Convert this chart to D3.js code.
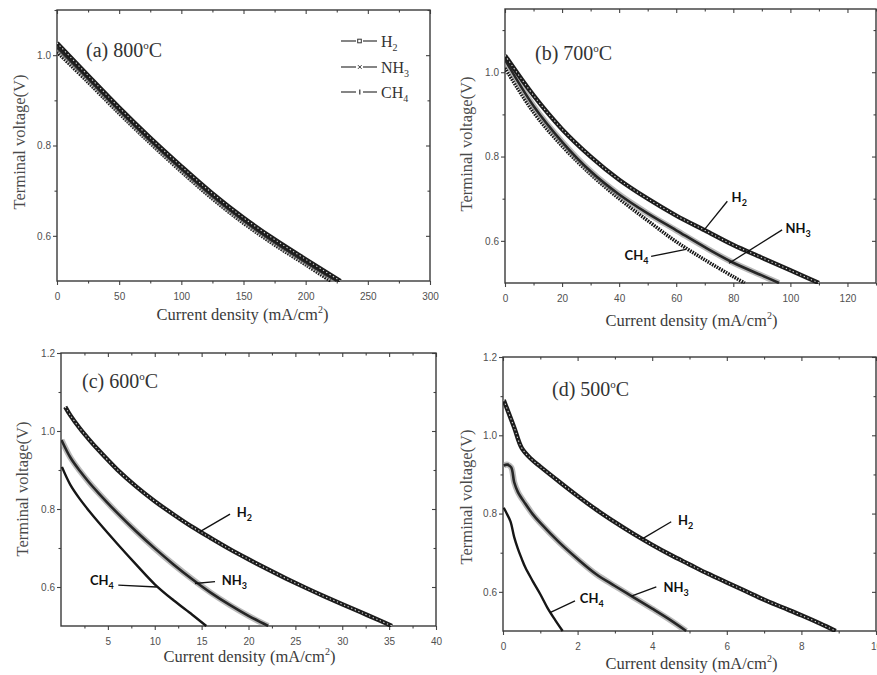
<!DOCTYPE html>
<html>
<head>
<meta charset="utf-8">
<script src="https://cdn.jsdelivr.net/npm/d3@7"></script>
<style>
    body { margin: 0; background: #fff; }
</style>
</head>
<body>
<div id="chart"></div>
<script>
// [current density (mA/cm2), terminal voltage (V)]
const h2At800 = [[0, 1.027], [25, 0.955], [50, 0.884], [75, 0.817], [100, 0.754], [125, 0.694], [150, 0.64], [175, 0.592], [200, 0.548], [228, 0.5]];
const nh3At800 = [[0, 1.017], [25, 0.948], [50, 0.878], [75, 0.811], [100, 0.748], [125, 0.688], [150, 0.634], [175, 0.586], [200, 0.542], [225, 0.5]];
const ch4At800 = [[0, 1.007], [25, 0.94], [50, 0.871], [75, 0.805], [100, 0.742], [125, 0.682], [150, 0.628], [175, 0.58], [200, 0.536], [220, 0.5]];

const h2At700 = [[0, 1.04], [10, 0.945], [20, 0.865], [30, 0.8], [40, 0.745], [50, 0.7], [60, 0.66], [70, 0.625], [80, 0.59], [90, 0.56], [100, 0.53], [110, 0.5]];
const nh3At700 = [[0, 1.03], [10, 0.92], [20, 0.835], [30, 0.765], [40, 0.71], [50, 0.665], [60, 0.625], [70, 0.585], [80, 0.548], [90, 0.518], [96, 0.5]];
const ch4At700 = [[0, 1.01], [10, 0.905], [20, 0.825], [30, 0.758], [40, 0.7], [50, 0.648], [60, 0.598], [70, 0.555], [80, 0.515], [84, 0.5]];

const h2At600 = [[0.45, 1.062], [1, 1.04], [2, 1.007], [3, 0.978], [4, 0.951], [6, 0.901], [8, 0.858], [10, 0.82], [12, 0.786], [14, 0.754], [16, 0.725], [18, 0.697], [20, 0.671], [22, 0.646], [24, 0.622], [26, 0.599], [28, 0.577], [30, 0.556], [32, 0.535], [34, 0.514], [35.3, 0.5]];
const nh3At600 = [[0.05, 0.977], [1, 0.932], [2, 0.898], [3, 0.868], [4, 0.841], [6, 0.79], [8, 0.743], [10, 0.699], [12, 0.658], [14, 0.62], [16, 0.585], [18, 0.554], [20, 0.526], [22.1, 0.5]];
const ch4At600 = [[0.1, 0.908], [1, 0.862], [2, 0.826], [3, 0.795], [4, 0.766], [6, 0.711], [8, 0.658], [10, 0.607], [12, 0.566], [14, 0.529], [15.5, 0.5]];

const h2At500 = [[0.02, 1.09], [0.1, 1.07], [0.3, 1.02], [0.5, 0.968], [0.75, 0.94], [1, 0.92], [1.5, 0.882], [2, 0.845], [2.5, 0.81], [3, 0.778], [3.5, 0.748], [4, 0.72], [4.5, 0.694], [5, 0.67], [5.5, 0.646], [6, 0.624], [6.5, 0.602], [7, 0.58], [7.5, 0.56], [8, 0.54], [8.5, 0.519], [8.92, 0.5]];
const nh3At500 = [[0.02, 0.923], [0.12, 0.925], [0.22, 0.918], [0.3, 0.88], [0.4, 0.855], [0.6, 0.825], [0.8, 0.798], [1, 0.776], [1.5, 0.727], [2, 0.684], [2.5, 0.645], [3, 0.615], [3.5, 0.586], [4, 0.557], [4.5, 0.527], [4.91, 0.5]];
const ch4At500 = [[0.02, 0.815], [0.1, 0.8], [0.2, 0.78], [0.3, 0.74], [0.4, 0.71], [0.5, 0.685], [0.6, 0.662], [0.8, 0.627], [1, 0.594], [1.2, 0.558], [1.4, 0.528], [1.6, 0.5]];

// tick values
const xTicks800 = [0, 50, 100, 150, 200, 250, 300];
const xMinor800 = [25, 75, 125, 175, 225, 275];
const xTicks700 = [0, 20, 40, 60, 80, 100, 120];
const xMinor700 = [10, 30, 50, 70, 90, 110, 130];
const xTicks600 = [5, 10, 15, 20, 25, 30, 35, 40];
const xMinor600 = [2.5, 7.5, 12.5, 17.5, 22.5, 27.5, 32.5, 37.5];
const xTicks500 = [0, 2, 4, 6, 8, 10];
const xMinor500 = [1, 3, 5, 7, 9];
const yTicksTop = [0.6, 0.8, 1.0];
const yTicksBottom = [0.6, 0.8, 1.0, 1.2];
const yMinor = [0.7, 0.9, 1.1];

// gas label callouts: text anchor, leader start, leader end (data units)
const notes700 = [
    { gas: "H2", at: [79.4, 0.691], from: [77.9, 0.694], to: [69.8, 0.626] },
    { gas: "NH3", at: [98.3, 0.619], from: [97.1, 0.626], to: [78.5, 0.547] },
    { gas: "CH4", at: [41.9, 0.555], from: [51.2, 0.563], to: [63.4, 0.58] }
];
const notes600 = [
    { gas: "H2", at: [18.74, 0.78], from: [18.03, 0.787], to: [14.83, 0.742] },
    { gas: "NH3", at: [17.14, 0.605], from: [16.43, 0.614], to: [14.29, 0.609] },
    { gas: "CH4", at: [3.09, 0.605], from: [6.11, 0.605], to: [10.21, 0.6] }
];
const notes500 = [
    { gas: "H2", at: [4.69, 0.77], from: [4.51, 0.779], to: [3.71, 0.734] },
    { gas: "NH3", at: [4.3, 0.6], from: [4.11, 0.613], to: [3.44, 0.589] },
    { gas: "CH4", at: [2.06, 0.571], from: [1.93, 0.577], to: [1.26, 0.547] }
];

const serif = "'Liberation Serif', 'Times New Roman', serif";
const sans = "'Liberation Sans', Arial, sans-serif";

function chem(sel, gas, sub) {
    // H2 -> H + subscript 2
    let head = gas.slice(0, -1), digit = gas.slice(-1);
    sel.append("tspan").text(head);
    sel.append("tspan").attr("dy", sub.dy).attr("font-size", sub.size).text(digit);
}

function drawPanel(svg, p) {
    let [x0, y0, x1, y1] = p.box;
    let x = d3.scaleLinear().domain(p.xDomain).range([x0, x1]);
    let y = d3.scaleLinear().domain(p.yDomain).range([y1, y0]);
    let g = svg.append("g");

    // axes: outward ticks left/bottom, inward top/right
    g.append("g").attr("transform", "translate(0," + y1 + ")")
        .call(d3.axisBottom(x).tickValues(p.xTicks).tickSize(4).tickPadding(8).tickFormat(d3.format("d")));
    g.append("g").attr("transform", "translate(0," + y1 + ")")
        .call(d3.axisBottom(x).tickValues(p.xMinor).tickSize(2.5).tickFormat(""));
    g.append("g").attr("transform", "translate(" + x0 + ",0)")
        .call(d3.axisLeft(y).tickValues(p.yTicks).tickSize(4).tickPadding(2).tickFormat(d3.format(".1f")));
    g.append("g").attr("transform", "translate(" + x0 + ",0)")
        .call(d3.axisLeft(y).tickValues(yMinor).tickSize(2.5).tickFormat(""));
    g.append("g").attr("transform", "translate(0," + y0 + ")")
        .call(d3.axisTop(x).tickValues(p.xTicks).tickSize(-4).tickFormat(""));
    g.append("g").attr("transform", "translate(0," + y0 + ")")
        .call(d3.axisTop(x).tickValues(p.xMinor).tickSize(-2.5).tickFormat(""));
    g.append("g").attr("transform", "translate(" + x1 + ",0)")
        .call(d3.axisRight(y).tickValues(p.yTicks).tickSize(-4).tickFormat(""));
    g.append("g").attr("transform", "translate(" + x1 + ",0)")
        .call(d3.axisRight(y).tickValues(yMinor).tickSize(-2.5).tickFormat(""));
    g.selectAll(".domain").remove();
    g.selectAll(".tick line").attr("stroke", "#444").attr("stroke-width", 1.1);
    g.selectAll(".tick text").attr("fill", "#505050").attr("font-family", sans).attr("font-size", 10);

    g.append("rect")
        .attr("x", x0).attr("y", y0)
        .attr("width", x1 - x0).attr("height", y1 - y0)
        .attr("fill", "none").attr("stroke", "#3a3a3a").attr("stroke-width", 1.4);

    // curves
    svg.append("clipPath").attr("id", "clip-" + p.key)
        .append("rect").attr("x", x0).attr("y", y0 - 2).attr("width", x1 - x0).attr("height", y1 - y0 + 3);
    let plot = g.append("g").attr("clip-path", "url(#clip-" + p.key + ")");
    let line = d3.line().curve(d3.curveCatmullRom.alpha(0.5))
        .x(function (d) { return x(d[0]); })
        .y(function (d) { return y(d[1]); });

    // CH4
    plot.append("path").datum(p.ch4)
        .attr("fill", "none").attr("stroke", "#161616")
        .attr("stroke-width", p.ch4Ticks ? 3.6 : 2.4)
        .attr("stroke-dasharray", p.ch4Ticks ? "1.6 1" : null)
        .attr("d", line);
    // NH3 (blurred grey band)
    plot.append("path").datum(p.nh3)
        .attr("fill", "none").attr("stroke", "#8c8c8c").attr("stroke-opacity", 0.6)
        .attr("stroke-width", 6).attr("d", line);
    plot.append("path").datum(p.nh3)
        .attr("fill", "none").attr("stroke", "#262626")
        .attr("stroke-width", 2.6).attr("d", line);
    // H2 (dense open squares)
    plot.append("path").datum(p.h2)
        .attr("fill", "none").attr("stroke", "#1c1c1c")
        .attr("stroke-width", 4.4).attr("d", line);
    plot.append("path").datum(p.h2)
        .attr("fill", "none").attr("stroke", "#d8d8d8")
        .attr("stroke-width", 1.1).attr("stroke-dasharray", "1.3 2.6").attr("d", line);

    // callouts
    p.notes.forEach(function (n) {
        g.append("line")
            .attr("x1", x(n.from[0])).attr("y1", y(n.from[1]))
            .attr("x2", x(n.to[0])).attr("y2", y(n.to[1]))
            .attr("stroke", "#111").attr("stroke-width", 1.3);
        let t = g.append("text")
            .attr("x", x(n.at[0])).attr("y", y(n.at[1]))
            .attr("font-family", "Lato, 'Open Sans', sans-serif").attr("font-weight", 700)
            .attr("font-size", 13).attr("fill", "#111");
        chem(t, n.gas, { dy: 4, size: 9 });
    });

    // panel title e.g. (a) 800°C with raised o
    let title = g.append("text")
        .attr("x", p.titlePos[0]).attr("y", p.titlePos[1])
        .style("font-family", serif).attr("font-size", 20).attr("fill", "#333");
    title.append("tspan").text(p.title);
    title.append("tspan").attr("dy", -8).attr("font-size", 11).text("o");
    title.append("tspan").attr("dy", 8).text("C");

    // axis titles
    let xt = g.append("text")
        .attr("x", (x0 + x1) / 2 + p.xTitleShift).attr("y", p.xTitleY)
        .attr("text-anchor", "middle")
        .style("font-family", serif).attr("font-size", 16.5).attr("fill", "#3a3a3a");
    xt.append("tspan").text("Current density (mA/cm");
    xt.append("tspan").attr("dy", -7).attr("font-size", 10).text("2");
    xt.append("tspan").attr("dy", 7).text(")");

    g.append("text")
        .attr("transform", "translate(" + p.yTitle[0] + "," + p.yTitle[1] + ") rotate(-90)")
        .attr("text-anchor", "middle")
        .style("font-family", serif).attr("font-size", 16.5).attr("fill", "#4a4a4a")
        .text("Terminal voltage(V)");
}

function drawLegend(svg) {
    let items = ["H2", "NH3", "CH4"];
    let rows = [41, 67, 92];
    let g = svg.append("g");
    items.forEach(function (gas, i) {
        let yy = rows[i];
        g.append("line").attr("x1", 341).attr("x2", 356).attr("y1", yy).attr("y2", yy)
            .attr("stroke", "#333").attr("stroke-width", 1.2);
        g.append("line").attr("x1", 363).attr("x2", 377).attr("y1", yy).attr("y2", yy)
            .attr("stroke", "#333").attr("stroke-width", 1.2);
        if (i === 0) {
            g.append("rect").attr("x", 357.7).attr("y", yy - 1.8).attr("width", 3.6).attr("height", 3.6)
                .attr("fill", "#fff").attr("stroke", "#333").attr("stroke-width", 1);
        } else if (i === 1) {
            g.append("path").attr("d", "M358," + (yy - 1.8) + "L361.6," + (yy + 1.8) + "M358," + (yy + 1.8) + "L361.6," + (yy - 1.8))
                .attr("stroke", "#333").attr("stroke-width", 1);
        } else {
            g.append("line").attr("x1", 359.8).attr("x2", 359.8).attr("y1", yy - 2.5).attr("y2", yy + 2.5)
                .attr("stroke", "#333").attr("stroke-width", 1.2);
        }
        let t = g.append("text").attr("x", 381).attr("y", yy + 6)
            .style("font-family", serif).attr("font-size", 16).attr("fill", "#333");
        chem(t, gas, { dy: 4, size: 10 });
    });
}

function init() {
    let svg = d3.select("#chart")
        .append("svg")
        .attr("width", 877)
        .attr("height", 675);

    let panels = [
        { key: "a", box: [57, 10, 430, 281], xDomain: [0, 300], yDomain: [0.5, 1.1],
          xTicks: xTicks800, xMinor: xMinor800, yTicks: yTicksTop,
          h2: h2At800, nh3: nh3At800, ch4: ch4At800, ch4Ticks: true, notes: [],
          title: "(a) 800", titlePos: [86, 57], xTitleY: 320, xTitleShift: -1, yTitle: [25, 142] },
        { key: "b", box: [505, 9, 876, 283], xDomain: [0, 130], yDomain: [0.5, 1.15],
          xTicks: xTicks700, xMinor: xMinor700, yTicks: yTicksTop,
          h2: h2At700, nh3: nh3At700, ch4: ch4At700, ch4Ticks: true, notes: notes700,
          title: "(b) 700", titlePos: [535, 60], xTitleY: 326, xTitleShift: 1, yTitle: [472, 144] },
        { key: "c", box: [61, 353, 436, 626], xDomain: [0, 40], yDomain: [0.5, 1.2],
          xTicks: xTicks600, xMinor: xMinor600, yTicks: yTicksBottom,
          h2: h2At600, nh3: nh3At600, ch4: ch4At600, ch4Ticks: false, notes: notes600,
          title: "(c) 600", titlePos: [82, 388], xTitleY: 662, xTitleShift: 1, yTitle: [28, 489] },
        { key: "d", box: [503, 357, 876, 631], xDomain: [0, 10], yDomain: [0.5, 1.2],
          xTicks: xTicks500, xMinor: xMinor500, yTicks: yTicksBottom,
          h2: h2At500, nh3: nh3At500, ch4: ch4At500, ch4Ticks: false, notes: notes500,
          title: "(d) 500", titlePos: [552, 396], xTitleY: 669, xTitleShift: 2, yTitle: [472, 497] }
    ];
    panels.forEach(function (p) { drawPanel(svg, p); });
    drawLegend(svg);
}

window.addEventListener('load', init);
</script>
</body>
</html>
